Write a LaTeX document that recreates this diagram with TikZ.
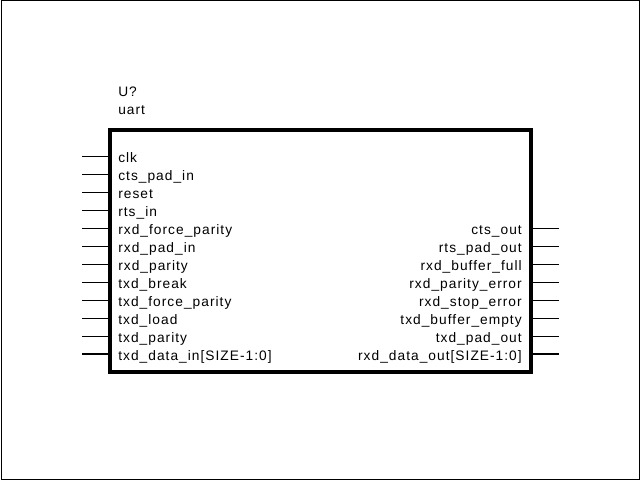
\documentclass[tikz,border=0pt]{standalone}
\usepackage{fontspec}
\setmainfont[LetterSpace=7.5]{Liberation Sans}
\begin{document}
\begin{tikzpicture}[x=0.75pt,y=-0.75pt,
  lbl/.style={inner sep=0pt,font=\fontsize{10.3pt}{12pt}\selectfont},
  pin/.style={line width=0.75pt},
  buspin/.style={line width=1.5pt},
  body/.style={line width=3pt}]
\useasboundingbox (0,0) rectangle (640,480);
\draw[line width=0.75pt] (1,0.5) rectangle (639,479);
\node[lbl,anchor=base west] (ref) at (118,96) {U?};
\node[lbl,anchor=base west] (name) at (118,114) {uart};
\draw[body] (110,129.5) rectangle (530.5,371.5);
\foreach \t [count=\i from 0] in {clk,cts\_pad\_in,reset,rts\_in,rxd\_force\_parity,rxd\_pad\_in,rxd\_parity,txd\_break,txd\_force\_parity,txd\_load,txd\_parity}{
  \coordinate (la\i) at (82,156+18*\i);
  \coordinate (lb\i) at (108,156+18*\i);
  \draw[pin] (la\i) -- (lb\i);
  \node[lbl,anchor=base west] (lt\i) at (118,162.5+18*\i) {\t};
}
\coordinate (la11) at (82,354);
\coordinate (lb11) at (108,354);
\draw[buspin] (la11) -- (lb11);
\node[lbl,anchor=base west] (lt11) at (118,360.5) {txd\_data\_in[SIZE-1:0]};
\foreach \t [count=\i from 0] in {cts\_out,rts\_pad\_out,rxd\_buffer\_full,rxd\_parity\_error,rxd\_stop\_error,txd\_buffer\_empty,txd\_pad\_out}{
  \coordinate (ra\i) at (533,228+18*\i);
  \coordinate (rb\i) at (559,228+18*\i);
  \draw[pin] (ra\i) -- (rb\i);
  \node[lbl,anchor=base east] (rt\i) at (522,234.5+18*\i) {\t};
}
\coordinate (ra7) at (533,354);
\coordinate (rb7) at (559,354);
\draw[buspin] (ra7) -- (rb7);
\node[lbl,anchor=base east] (rt7) at (522,360.5) {rxd\_data\_out[SIZE-1:0]};
\end{tikzpicture}
\end{document}
